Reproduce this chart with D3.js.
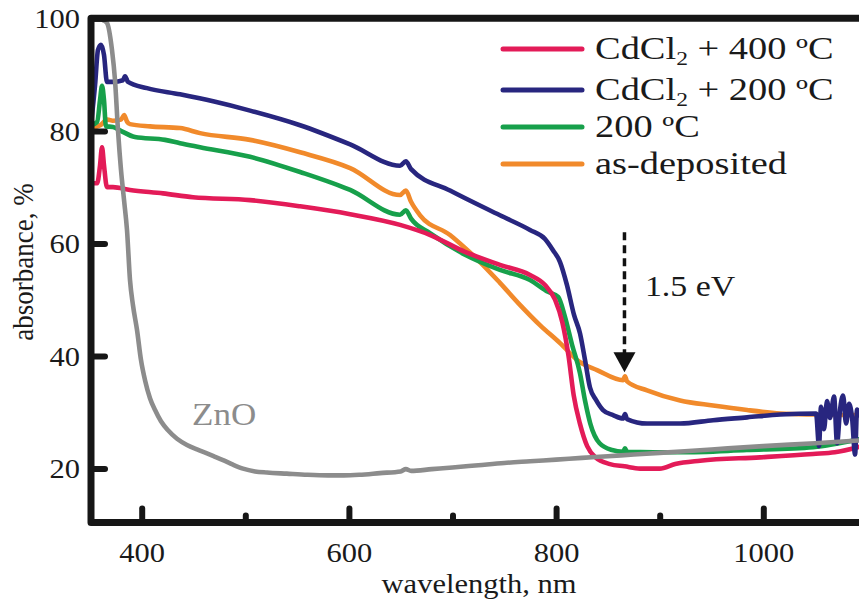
<!DOCTYPE html>
<html>
<head>
<meta charset="utf-8">
<script src="https://cdn.jsdelivr.net/npm/d3@7"></script>
<style>
  html, body { margin: 0; padding: 0; background: #fff; }
  svg { display: block; }
  text { font-family: "Liberation Serif", "Times New Roman", serif; fill: #1a1a1a; }
</style>
</head>
<body>
<svg id="chart" width="859" height="605"></svg>
<script>
// ---------- data ----------
const xTicksMajor = [400, 600, 800, 1000];
const xTicksMinor = [500, 700, 900];
const yTicks = [20, 40, 60, 80, 100];

const seriesNames = ["CdCl\u2082 + 400 \u00baC", "CdCl\u2082 + 200 \u00baC", "200 \u00baC", "as-deposited"];

// ZnO (grey)
const wlZnO  = [353, 357, 362.6, 366.5, 371.3, 374.2, 377.1, 380, 382.9, 385.8, 388.7, 391.6, 395.5, 399.3, 403.2, 408, 412.9, 418.6, 425.4, 434.1, 443.7, 453.4, 463, 470.8, 478.5, 488.1, 497.8, 509.4, 521, 540, 560, 580, 595, 610, 630, 650, 655, 660, 680, 700, 725, 750, 775, 800, 825, 850, 875, 900, 950, 1000, 1050, 1093];
const absZnO = [102, 100.3, 99.7, 99.2, 94.4, 89.1, 80.2, 73.1, 67.8, 62.4, 53.5, 49.0, 44.6, 39.3, 35.7, 32.5, 30.4, 28.4, 26.8, 25.3, 24.2, 23.4, 22.7, 22.1, 21.5, 20.7, 20.0, 19.5, 19.3, 19.1, 18.9, 18.8, 18.8, 18.9, 19.2, 19.5, 19.9, 19.6, 19.9, 20.2, 20.6, 21.0, 21.3, 21.6, 21.9, 22.2, 22.5, 22.8, 23.4, 24.0, 24.5, 25.0];

// CdCl2 + 400 C (red)
const wlRed  = [351, 357, 359.8, 361.7, 363.6, 366.5, 372.3, 388.7, 420.6, 449.5, 504.6, 552.9, 601.2, 649.4, 678.6, 712.1, 745.8, 774.8, 789.3, 799, 806, 812, 817, 823, 830, 838, 852, 866, 881, 900, 915, 939, 997, 1048, 1069, 1093];
const absRed = [70.7, 70.7, 73.9, 77.1, 73.9, 70.0, 70.0, 69.5, 68.9, 68.2, 67.7, 66.6, 65.2, 63.3, 61.5, 58.5, 56.2, 54.4, 52.6, 50.0, 46.0, 40.0, 33.0, 28.0, 24.0, 22.0, 20.8, 20.4, 20.0, 20.0, 20.8, 21.4, 22.0, 22.6, 22.9, 23.9];

// CdCl2 + 200 C (navy)
const wlNavy  = [351, 355, 357.8, 360.7, 363.6, 366.5, 372.3, 381.9, 383.9, 386.8, 405.1, 437, 470, 504.6, 552.9, 601.2, 649.4, 655, 660, 697.6, 745.8, 774.8, 789.3, 797, 803.8, 810.5, 817.3, 823.1, 827.9, 832.7, 838.5, 845.3, 855, 864.6, 866.5, 868.5, 887.8, 919.7, 951.5, 984.4, 1016.3, 1050.9, 1053.8, 1055.7, 1058.6, 1061.5, 1064.4, 1068.3, 1071.2, 1074.1, 1077, 1079.9, 1082.8, 1085.7, 1088.6, 1090.5, 1093];
const absNavy = [81.0, 88.2, 94.4, 95.3, 93.5, 88.7, 88.7, 89.0, 89.7, 88.7, 87.6, 86.5, 85.2, 83.6, 81.0, 77.6, 73.8, 74.6, 73.2, 69.4, 65.0, 62.4, 60.8, 58.8, 56.7, 52.6, 47.3, 44.0, 39.3, 34.4, 32.2, 30.4, 29.5, 28.9, 29.7, 28.8, 28.0, 28.0, 28.6, 29.1, 29.6, 29.8, 24.0, 31.0, 27.0, 32.0, 29.0, 32.8, 24.5, 30.5, 33.0, 28.0, 31.5, 29.0, 22.5, 30.5, 29.5];

// 200 C (green)
const wlGreen  = [351, 357, 359.8, 361.7, 363.6, 365.5, 372.3, 379, 393.5, 422.5, 437, 456.3, 504.6, 552.9, 601.2, 649.4, 655, 660, 678.6, 712.1, 745.8, 774.8, 792.2, 802, 808.5, 815.4, 823, 828, 833, 842, 854, 864.6, 866.5, 868.5, 920, 984, 1048, 1093];
const absGreen = [81.0, 81.6, 85.5, 88.0, 85.5, 80.8, 80.7, 80.1, 78.9, 78.4, 77.8, 77.1, 75.4, 72.7, 69.5, 65.1, 65.9, 64.4, 61.8, 58.0, 55.3, 53.5, 51.4, 50.5, 47.0, 42.0, 37.0, 32.0, 28.0, 24.5, 23.3, 23.0, 23.6, 23.0, 22.9, 23.3, 23.8, 25.2];

// as-deposited (orange)
const wlOrange  = [351, 360, 367, 372, 380, 383, 386, 388.7, 408, 437, 456.3, 504.6, 552.9, 601.2, 649.4, 655, 660, 668.7, 697.6, 712.1, 726.6, 745.8, 765.1, 784.4, 803.8, 823.1, 839.5, 864.6, 866.5, 868.5, 887.8, 919.7, 951.5, 984.4, 1016.3, 1048, 1093];
const absOrange = [80.5, 81.0, 82.0, 81.8, 82.0, 82.8, 81.6, 81.2, 80.8, 80.5, 79.6, 78.4, 76.2, 73.4, 68.6, 69.4, 67.4, 65.0, 61.5, 59.2, 56.7, 53.0, 49.1, 45.5, 42.3, 38.9, 37.5, 35.7, 36.4, 35.5, 33.9, 32.1, 31.2, 30.4, 29.8, 29.6, 29.5];

// annotation values
const arrowWl = 866, arrowFrom = 62.0, arrowTo = 37.1;
const bandGapLabel = "1.5 eV", bandGapWl = 885.7, bandGapVal = 50.6;
const znoLabel = "ZnO", znoLabelWl = 448.6, znoLabelVal = 27.7;

// ---------- layout ----------
const svg = d3.select("#chart");
const pLeft = 91, pRight = 859, pTop = 18.3, pBottom = 522.5;
const x = d3.scaleLinear().domain([400, 1000]).range([141.7, 763.3]);
const y = d3.scaleLinear().domain([20, 100]).range([468.6, 18.3]);
const SX = 1.13; // horizontal stretch of the original figure

const colors = {
  red: "#e31b58", navy: "#28267f", green: "#17a04b", orange: "#f18a2b", gray: "#8c8c8c"
};

svg.append("defs").append("clipPath").attr("id", "plotclip")
  .append("rect").attr("x", pLeft).attr("y", pTop).attr("width", pRight - pLeft).attr("height", pBottom - pTop);

const line = d3.line().x(d => x(d[0])).y(d => y(d[1])).curve(d3.curveMonotoneX);
const zip = (a, b) => a.map((v, i) => [v, b[i]]);

const plot = svg.append("g").attr("clip-path", "url(#plotclip)");
const series = [
  { data: zip(wlOrange, absOrange), color: colors.orange },
  { data: zip(wlGreen, absGreen), color: colors.green },
  { data: zip(wlRed, absRed), color: colors.red },
  { data: zip(wlNavy, absNavy), color: colors.navy },
  { data: zip(wlZnO, absZnO), color: colors.gray }
];
plot.selectAll("path.series").data(series).join("path")
  .attr("class", "series")
  .attr("d", d => line(d.data))
  .attr("fill", "none")
  .attr("stroke", d => d.color)
  .attr("stroke-width", 4.6)
  .attr("stroke-linejoin", "round")
  .attr("stroke-linecap", "round");

// ---------- axes ----------
const axisColor = "#161616";
function styleAxis(g) {
  g.select(".domain").remove();
  g.selectAll(".tick line").attr("stroke", axisColor).attr("stroke-width", 6).attr("stroke-linecap", "round");
}

const xMajor = svg.append("g").attr("transform", `translate(0,${pBottom})`)
  .call(d3.axisBottom(x).tickValues(xTicksMajor).tickSize(-14).tickSizeOuter(0).tickFormat(d3.format("d")));
styleAxis(xMajor);
xMajor.selectAll(".tick text")
  .attr("y", 0).attr("dy", 0)
  .attr("transform", `translate(0,39.5) scale(${SX},1)`)
  .style("font-size", "27px").style("fill", "#1a1a1a");

const xMinor = svg.append("g").attr("transform", `translate(0,${pBottom})`)
  .call(d3.axisBottom(x).tickValues(xTicksMinor).tickSize(-7).tickSizeOuter(0).tickFormat(""));
styleAxis(xMinor);

const yAxis = svg.append("g").attr("transform", `translate(${pLeft},0)`)
  .call(d3.axisLeft(y).tickValues(yTicks).tickSize(-14).tickSizeOuter(0).tickFormat(d3.format("d")));
styleAxis(yAxis);
yAxis.selectAll(".tick text")
  .attr("x", 0).attr("dy", "0.34em")
  .attr("transform", `translate(-11,0) scale(${SX},1)`)
  .style("font-size", "27px").style("fill", "#1a1a1a");

svg.append("path")
  .attr("d", `M${pRight + 5},${pTop} H${pLeft} V${pBottom} H${pRight + 5}`)
  .attr("fill", "none").attr("stroke", axisColor).attr("stroke-width", 7).attr("stroke-linejoin", "round");

svg.append("text")
  .attr("transform", `translate(479,593) scale(${SX},1)`)
  .attr("text-anchor", "middle").style("font-size", "27px")
  .text("wavelength, nm");
svg.append("text")
  .attr("transform", `translate(33,262) scale(${SX},1) rotate(-90)`)
  .attr("text-anchor", "middle").style("font-size", "27px")
  .text("absorbance, %");

// ---------- annotations ----------
svg.append("line")
  .attr("x1", x(arrowWl)).attr("x2", x(arrowWl))
  .attr("y1", y(arrowFrom)).attr("y2", y(arrowTo) - 18)
  .attr("stroke", "#111").attr("stroke-width", 3.5).attr("stroke-dasharray", "8,5");
const ax = x(arrowWl), ay = y(arrowTo);
svg.append("path")
  .attr("d", `M${ax},${ay} L${ax - 11},${ay - 20} L${ax + 11},${ay - 20} Z`)
  .attr("fill", "#111");
svg.append("text")
  .attr("transform", `translate(${x(bandGapWl)},${y(bandGapVal)}) scale(${SX},1)`)
  .style("font-size", "30px").text(bandGapLabel);
svg.append("text")
  .attr("transform", `translate(${x(znoLabelWl)},${y(znoLabelVal)}) scale(${SX},1)`)
  .style("font-size", "31px").style("fill", colors.gray).text(znoLabel);

// ---------- legend ----------
const legendItems = [
  { name: seriesNames[0], color: colors.red },
  { name: seriesNames[1], color: colors.navy },
  { name: seriesNames[2], color: colors.green },
  { name: seriesNames[3], color: colors.orange }
];
const legendBaselines = [59, 100, 137, 174];
const LSX = 1.24;
const lg = svg.append("g");
legendItems.forEach((it, i) => {
  const by = legendBaselines[i];
  lg.append("line").attr("x1", 503).attr("x2", 582).attr("y1", by - 10).attr("y2", by - 10)
    .attr("stroke", it.color).attr("stroke-width", 5).attr("stroke-linecap", "round");
  const t = lg.append("text").attr("transform", `translate(595,${by}) scale(${LSX},1)`).style("font-size", "31px");
  if (it.name.startsWith("CdCl")) {
    const rest = it.name.slice(5);
    t.append("tspan").text("CdCl");
    t.append("tspan").attr("dy", 6).style("font-size", "19px").text("2");
    t.append("tspan").attr("dy", -6).text(rest);
  } else {
    t.text(it.name);
  }
});
</script>
</body>
</html>
